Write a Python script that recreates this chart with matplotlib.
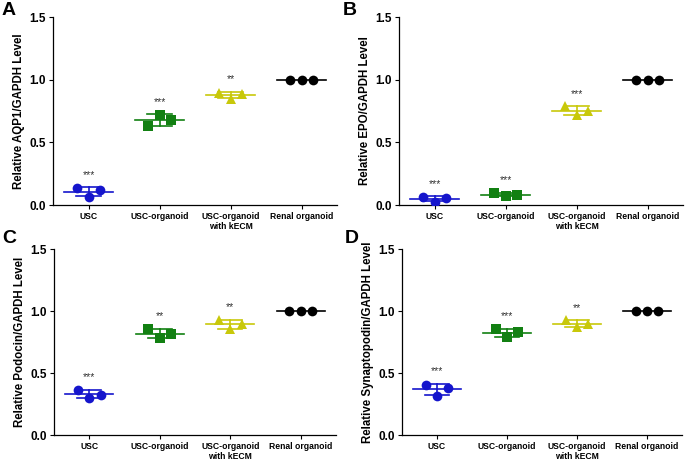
import numpy as np
import matplotlib
matplotlib.use("Agg")
import matplotlib.pyplot as plt

plt.rcParams['font.family'] = ['Liberation Sans', 'DejaVu Sans']
plt.rcParams['font.weight'] = 'bold'

categories = ["USC", "USC-organoid", "USC-organoid\nwith kECM", "Renal organoid"]
colors = ["#1515cc", "#128012", "#c8c80a", "#000000"]
markers = ["o", "s", "^", "o"]

aqp1 = [[0.134, 0.067, 0.120], [0.628, 0.722, 0.680], [0.896, 0.848, 0.888], [1.0, 1.0, 1.0]]
epo = [[0.067, 0.027, 0.053], [0.099, 0.072, 0.077], [0.787, 0.715, 0.752], [1.0, 1.0, 1.0]]
podocin = [[0.363, 0.296, 0.325], [0.855, 0.785, 0.815], [0.927, 0.855, 0.892], [1.0, 1.0, 1.0]]
synapto = [[0.403, 0.317, 0.382], [0.858, 0.793, 0.828], [0.925, 0.874, 0.898], [1.0, 1.0, 1.0]]

stars_a = ["***", "***", "**", ""]
stars_b = ["***", "***", "***", ""]
stars_c = ["***", "**", "**", ""]
stars_d = ["***", "***", "**", ""]

ylabels = ["Relative AQP1/GAPDH Level", "Relative EPO/GAPDH Level",
           "Relative Podocin/GAPDH Level", "Relative Synaptopodin/GAPDH Level"]
letters = ["A", "B", "C", "D"]

fig = plt.figure(figsize=(6.85, 4.61), dpi=100)
W, H = 685, 461
boxes = [(53, 17, 337, 205), (399, 17, 683, 205), (54, 249, 336, 435), (402, 249, 682, 435)]
letter_pos = [(2, 2), (343, 2), (2, 230), (345, 230)]

panels = [(aqp1, stars_a), (epo, stars_b), (podocin, stars_c), (synapto, stars_d)]
jit = np.array([-0.16, 0.0, 0.16])

for i, ((data, stars), (l, t, r, b)) in enumerate(zip(panels, boxes)):
    ax = fig.add_axes([l / W, 1 - b / H, (r - l) / W, (b - t) / H])
    for j, vals in enumerate(data):
        v = np.array(vals)
        m = v.mean()
        sd = v.std(ddof=1)
        c = colors[j]
        ax.plot([j - 0.34, j + 0.34], [m, m], color=c, lw=1.2, zorder=2)
        if sd > 0:
            ax.plot([j, j], [m - sd, m + sd], color=c, lw=1.2, zorder=2)
            ax.plot([j - 0.17, j + 0.17], [m - sd, m - sd], color=c, lw=1.2, zorder=2)
            ax.plot([j - 0.17, j + 0.17], [m + sd, m + sd], color=c, lw=1.2, zorder=2)
        ax.plot(j + jit, v, linestyle='none', marker=markers[j], color=c,
                markersize=7, markeredgewidth=0, zorder=3)
        if stars[j]:
            ax.text(j, max(v.max(), m + sd) + 0.06, stars[j], ha='center', va='bottom',
                    fontsize=7.5, color='#333333', fontweight='normal')
    ax.set_xlim(-0.5, 3.5)
    ax.set_ylim(0, 1.5)
    ax.set_yticks([0, 0.5, 1.0, 1.5])
    ax.set_yticklabels(["0.0", "0.5", "1.0", "1.5"], fontsize=8.5, fontweight='bold')
    ax.set_xticks(range(4))
    ax.set_xticklabels(categories, fontsize=6.2, fontweight='bold', linespacing=1.1)
    ax.tick_params(axis='x', length=3, width=0.8, pad=2)
    ax.tick_params(axis='y', length=3, width=0.8, pad=2)
    for s in ['top', 'right']:
        ax.spines[s].set_visible(False)
    for s in ['left', 'bottom']:
        ax.spines[s].set_linewidth(0.9)
    ax.set_ylabel(ylabels[i], fontsize=8.3, fontweight='bold', labelpad=3)
    lx, ly = letter_pos[i]
    fig.text(lx / W, 1 - ly / H, letters[i], fontsize=14, fontweight='bold',
             ha='left', va='top')

fig.savefig("out.png", dpi=100)
